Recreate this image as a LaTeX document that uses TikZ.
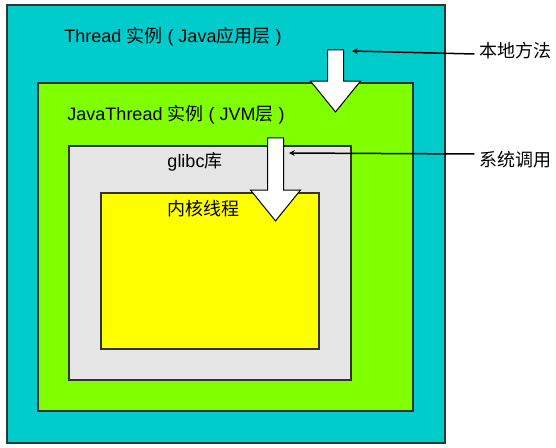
\documentclass[tikz,border=0pt]{standalone}
\usepackage{fontspec}
\setmainfont{Liberation Sans}
\newfontfamily\cjk{Noto Sans CJK SC}
\usepackage{xcolor}
\usetikzlibrary{shapes, arrows}

\definecolor{jvteal}{HTML}{00CCCC}
\definecolor{jvgreen}{HTML}{80FF00}
\definecolor{jvgray}{HTML}{E6E6E6}
\definecolor{jvyellow}{HTML}{FFFF00}

\begin{document}
\begin{tikzpicture}[>=stealth, x=1pt, y=-1pt, font=\fontsize{18}{20}\selectfont]
    \tikzstyle{layer} = [draw=black!80, rectangle, line width=1.2pt, inner sep=0pt]
    \tikzstyle{bigarrow} = [draw, single arrow, fill=white, line width=1pt, inner xsep=0pt, inner ysep=7.5pt, rotate=-90, single arrow head indent=0pt, single arrow tip angle=78, single arrow head extend=17]
    \tikzstyle{tag} = [inner sep=5pt]

    \useasboundingbox (0,0) rectangle (556,447);

    % nested layers
    \node[layer, fill=jvteal, minimum width=438, minimum height=438] (thread) at (226,224) {};
    \node[layer, fill=jvgreen, minimum width=375, minimum height=328] (jvm) at (225.5,247) {};
    \node[layer, fill=jvgray, minimum width=282, minimum height=234] (glibc) at (210,263) {};
    \node[layer, fill=jvyellow, minimum width=218, minimum height=156] (kernel) at (210,271) {};

    \node (threadtxt) at (173,37) {Thread {\cjk 实例} ( Java{\cjk 应用层} )};
    \node (jvmtxt) at (176,115) {JavaThread {\cjk 实例} ( JVM{\cjk 层} )};
    \node (glibctxt) at (195,162) {glibc{\cjk 库}};
    \node (kerneltxt) at (203,209) {\cjk 内核线程};

    % block arrows
    \node[bigarrow, minimum height=62] (down1) at (335.5,76) {};
    \node[bigarrow, minimum height=83] (down2) at (275.5,174.5) {};

    % side labels
    \node[tag] (native) at (515.5,51) {\cjk 本地方法};
    \node[tag] (syscall) at (515.5,160) {\cjk 系统调用};
    \coordinate (nativetip) at (352,51);
    \coordinate (syscalltip) at (289,153);

    \draw[->, line width=1.5pt] ([yshift=-3pt]native.west) -- (nativetip);
    \draw[->, line width=1.5pt] ([yshift=6pt]syscall.west) -- (syscalltip);
\end{tikzpicture}
\end{document}
